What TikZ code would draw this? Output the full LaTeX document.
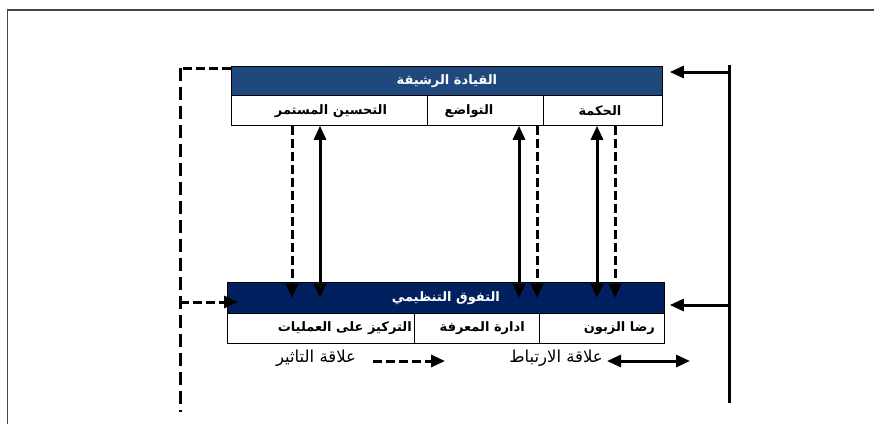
\documentclass[tikz,border=0pt]{standalone}
\usepackage{fontspec}
\usetikzlibrary{arrows.meta,calc}
\TeXXeTstate=1
\newfontfamily\arabicfont[Script=Arabic]{DejaVu Sans}
\newcommand{\artxt}[1]{\beginR #1\endR}
\definecolor{hdrtop}{RGB}{31,73,125}
\definecolor{hdrbot}{RGB}{0,32,96}
\definecolor{framec}{RGB}{70,70,70}
\tikzset{
  tri/.tip={Triangle[width=12pt,length=14pt]},
  hdr/.style={draw=black, line width=0.8pt, inner sep=0pt, anchor=north west, text=white,
    font=\arabicfont\bfseries\fontsize{13}{15}\selectfont},
  cellbox/.style={draw=black, line width=0.8pt, fill=white, inner sep=0pt, anchor=north west},
  lbl/.style={font=\arabicfont\bfseries\fontsize{13}{15}\selectfont, inner sep=0pt},
  leg/.style={font=\arabicfont\fontsize{16.5}{18}\selectfont, inner sep=0pt},
  corr/.style={line width=3pt, tri-tri},
  oneway/.style={line width=3pt, -tri},
  infl/.style={line width=3pt, dash pattern=on 9pt off 4pt, -tri},
  dline/.style={line width=3pt, dash pattern=on 9pt off 4pt},
  dlinev/.style={line width=3pt, dash pattern=on 13pt off 6pt},
}
\begin{document}
\begin{tikzpicture}[x=1pt,y=-1pt]
\useasboundingbox (0,0) rectangle (874,424);
% frame
\draw[framec, line width=1.8pt] (7,10) -- (874,10);
\draw[framec, line width=1pt] (7,10) -- (7,424);

% top block
\node[hdr, fill=hdrtop, minimum width=431pt, minimum height=29pt] (lead) at (231,66) {\artxt{القيادة الرشيقة}};
\node[cellbox, minimum width=196pt, minimum height=30pt] (improve) at (231,95) {};
\node[cellbox, minimum width=116pt, minimum height=30pt] (humility) at (427,95) {};
\node[cellbox, minimum width=119pt, minimum height=30pt] (wisdom) at (543,95) {};
\node[lbl] (timprove) at (331,111) {\artxt{التحسين المستمر}};
\node[lbl] (thumility) at (469,111) {\artxt{التواضع}};
\node[lbl] (twisdom) at (600,111) {\artxt{الحكمة}};

% bottom block
\node[hdr, fill=hdrbot, minimum width=437pt, minimum height=31pt] (excel) at (227,282) {\artxt{التفوق التنظيمي}};
\node[cellbox, minimum width=187pt, minimum height=30pt] (ops) at (227,313) {};
\node[cellbox, minimum width=125pt, minimum height=30pt] (know) at (414,313) {};
\node[cellbox, minimum width=125pt, minimum height=30pt] (cust) at (539,313) {};
\node[lbl, anchor=east] (tops) at (412,328) {\artxt{التركيز على العمليات}};
\node[lbl, anchor=east] (tknow) at (525,328) {\artxt{ادارة المعرفة}};
\node[lbl, anchor=east] (tcust) at (655,328) {\artxt{رضا الزبون}};

% vertical links
\draw[infl] (292,0 |- improve.south) -- (292,0 |- excel.center);
\draw[corr] (320,0 |- excel.center) -- (320,0 |- improve.south);
\draw[corr] (519,0 |- excel.center) -- (519,0 |- humility.south);
\draw[infl] (537,0 |- humility.south) -- (537,0 |- excel.center);
\draw[corr] (597,0 |- excel.center) -- (597,0 |- wisdom.south);
\draw[infl] (615,0 |- wisdom.south) -- (615,0 |- excel.center);

% right feedback
\coordinate (rtop) at (729,65);
\coordinate (rbot) at (729,403);
\coordinate (ra) at (729,72);
\coordinate (rb) at (729,305);
\draw[line width=3pt] (rtop) -- (rbot);
\draw[oneway] (ra) -- ($(lead.east |- ra)+(7,0)$);
\draw[oneway] (rb) -- ($(excel.east |- rb)+(5,0)$);

% left feedback (dashed)
\coordinate (lc1) at (180,68);
\coordinate (lc2) at (180,412);
\coordinate (ll) at (180,302);
\draw[dline] ($(lead.north west)+(0,2)$) -- (lc1);
\draw[dlinev] (lc1) -- (lc2);
\draw[infl] (ll) -- ($(excel.west |- ll)+(11,0)$);

% legend
\coordinate (li1) at (373,361);
\coordinate (li2) at (445,361);
\coordinate (lr1) at (607,361);
\coordinate (lr2) at (690,361);
\draw[infl] (li1) -- (li2);
\draw[corr] (lr1) -- (lr2);
\node[leg] (tinfl) at (316,358) {\artxt{علاقة التاثير}};
\node[leg] (tcorr) at (556,358) {\artxt{علاقة الارتباط}};
\end{tikzpicture}
\end{document}
